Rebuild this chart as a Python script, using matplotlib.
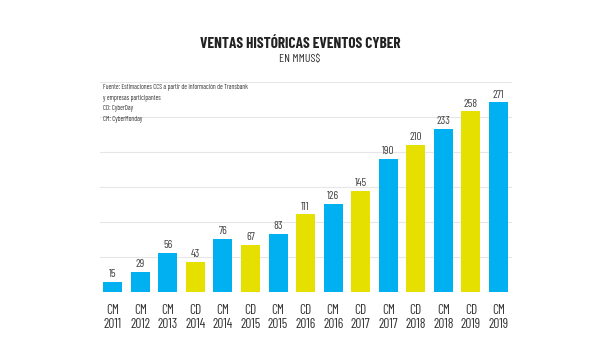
import numpy as np
import matplotlib
matplotlib.use("Agg")
import matplotlib.pyplot as plt

# data
events = ['CM', 'CM', 'CM', 'CD', 'CM', 'CD', 'CM', 'CD', 'CM', 'CD', 'CM', 'CD', 'CM', 'CD', 'CM']
years = ['2011', '2012', '2013', '2014', '2014', '2015', '2015', '2016', '2016', '2017', '2017', '2018', '2018', '2019', '2019']
sales = [15, 29, 56, 43, 76, 67, 83, 111, 126, 145, 190, 210, 233, 258, 271]

BLUE = '#00B0F0'
YELLOW = '#E6E000'

plt.rcParams['font.family'] = ['Barlow Condensed', 'DejaVu Sans']

fig = plt.figure(figsize=(6, 3.57), dpi=100)
ax = fig.add_axes([100/600, 1-292/357, 412/600, 210/357])

x = np.arange(len(sales))
colors = [BLUE if e == 'CM' else YELLOW for e in events]
ax.bar(x, sales, width=0.69, color=colors, zorder=3)

for xi, v in zip(x, sales):
    ax.text(xi, v + 4, str(v), ha='center', va='bottom', fontsize=8.2, color='#444444')

ax.set_ylim(0, 300)
ax.set_xlim(-0.46, 14.49)
ax.set_yticks(np.arange(0, 301, 50))
ax.yaxis.grid(True, color='#E6E6E6', linewidth=0.8, zorder=0)
ax.tick_params(axis='y', left=False, labelleft=False)
ax.tick_params(axis='x', bottom=False, pad=5)
ax.set_xticks(x)
ax.set_xticklabels([f'{e}\n{y}' for e, y in zip(events, years)], fontsize=9.6, color='#333333',
                   linespacing=1.15)
for s in ax.spines.values():
    s.set_visible(False)

fig.text(0.5, 1-44/357, 'VENTAS HISTÓRICAS EVENTOS CYBER', ha='center', va='center',
         fontsize=11, fontweight='bold', color='#222222')
fig.text(0.5, 1-59/357, 'EN MMUS$', ha='center', va='center', fontsize=8.5, color='#333333')

note = ('Fuente: Estimaciones CCS a partir de información de Transbank\n'
        'y empresas participantes\nCD: CyberDay\nCM: CyberMonday')
fig.text(103/600, 1-84/357, note, ha='left', va='top', fontsize=4.8, color='#333333', linespacing=1.75)

fig.savefig('out.png', dpi=100)
